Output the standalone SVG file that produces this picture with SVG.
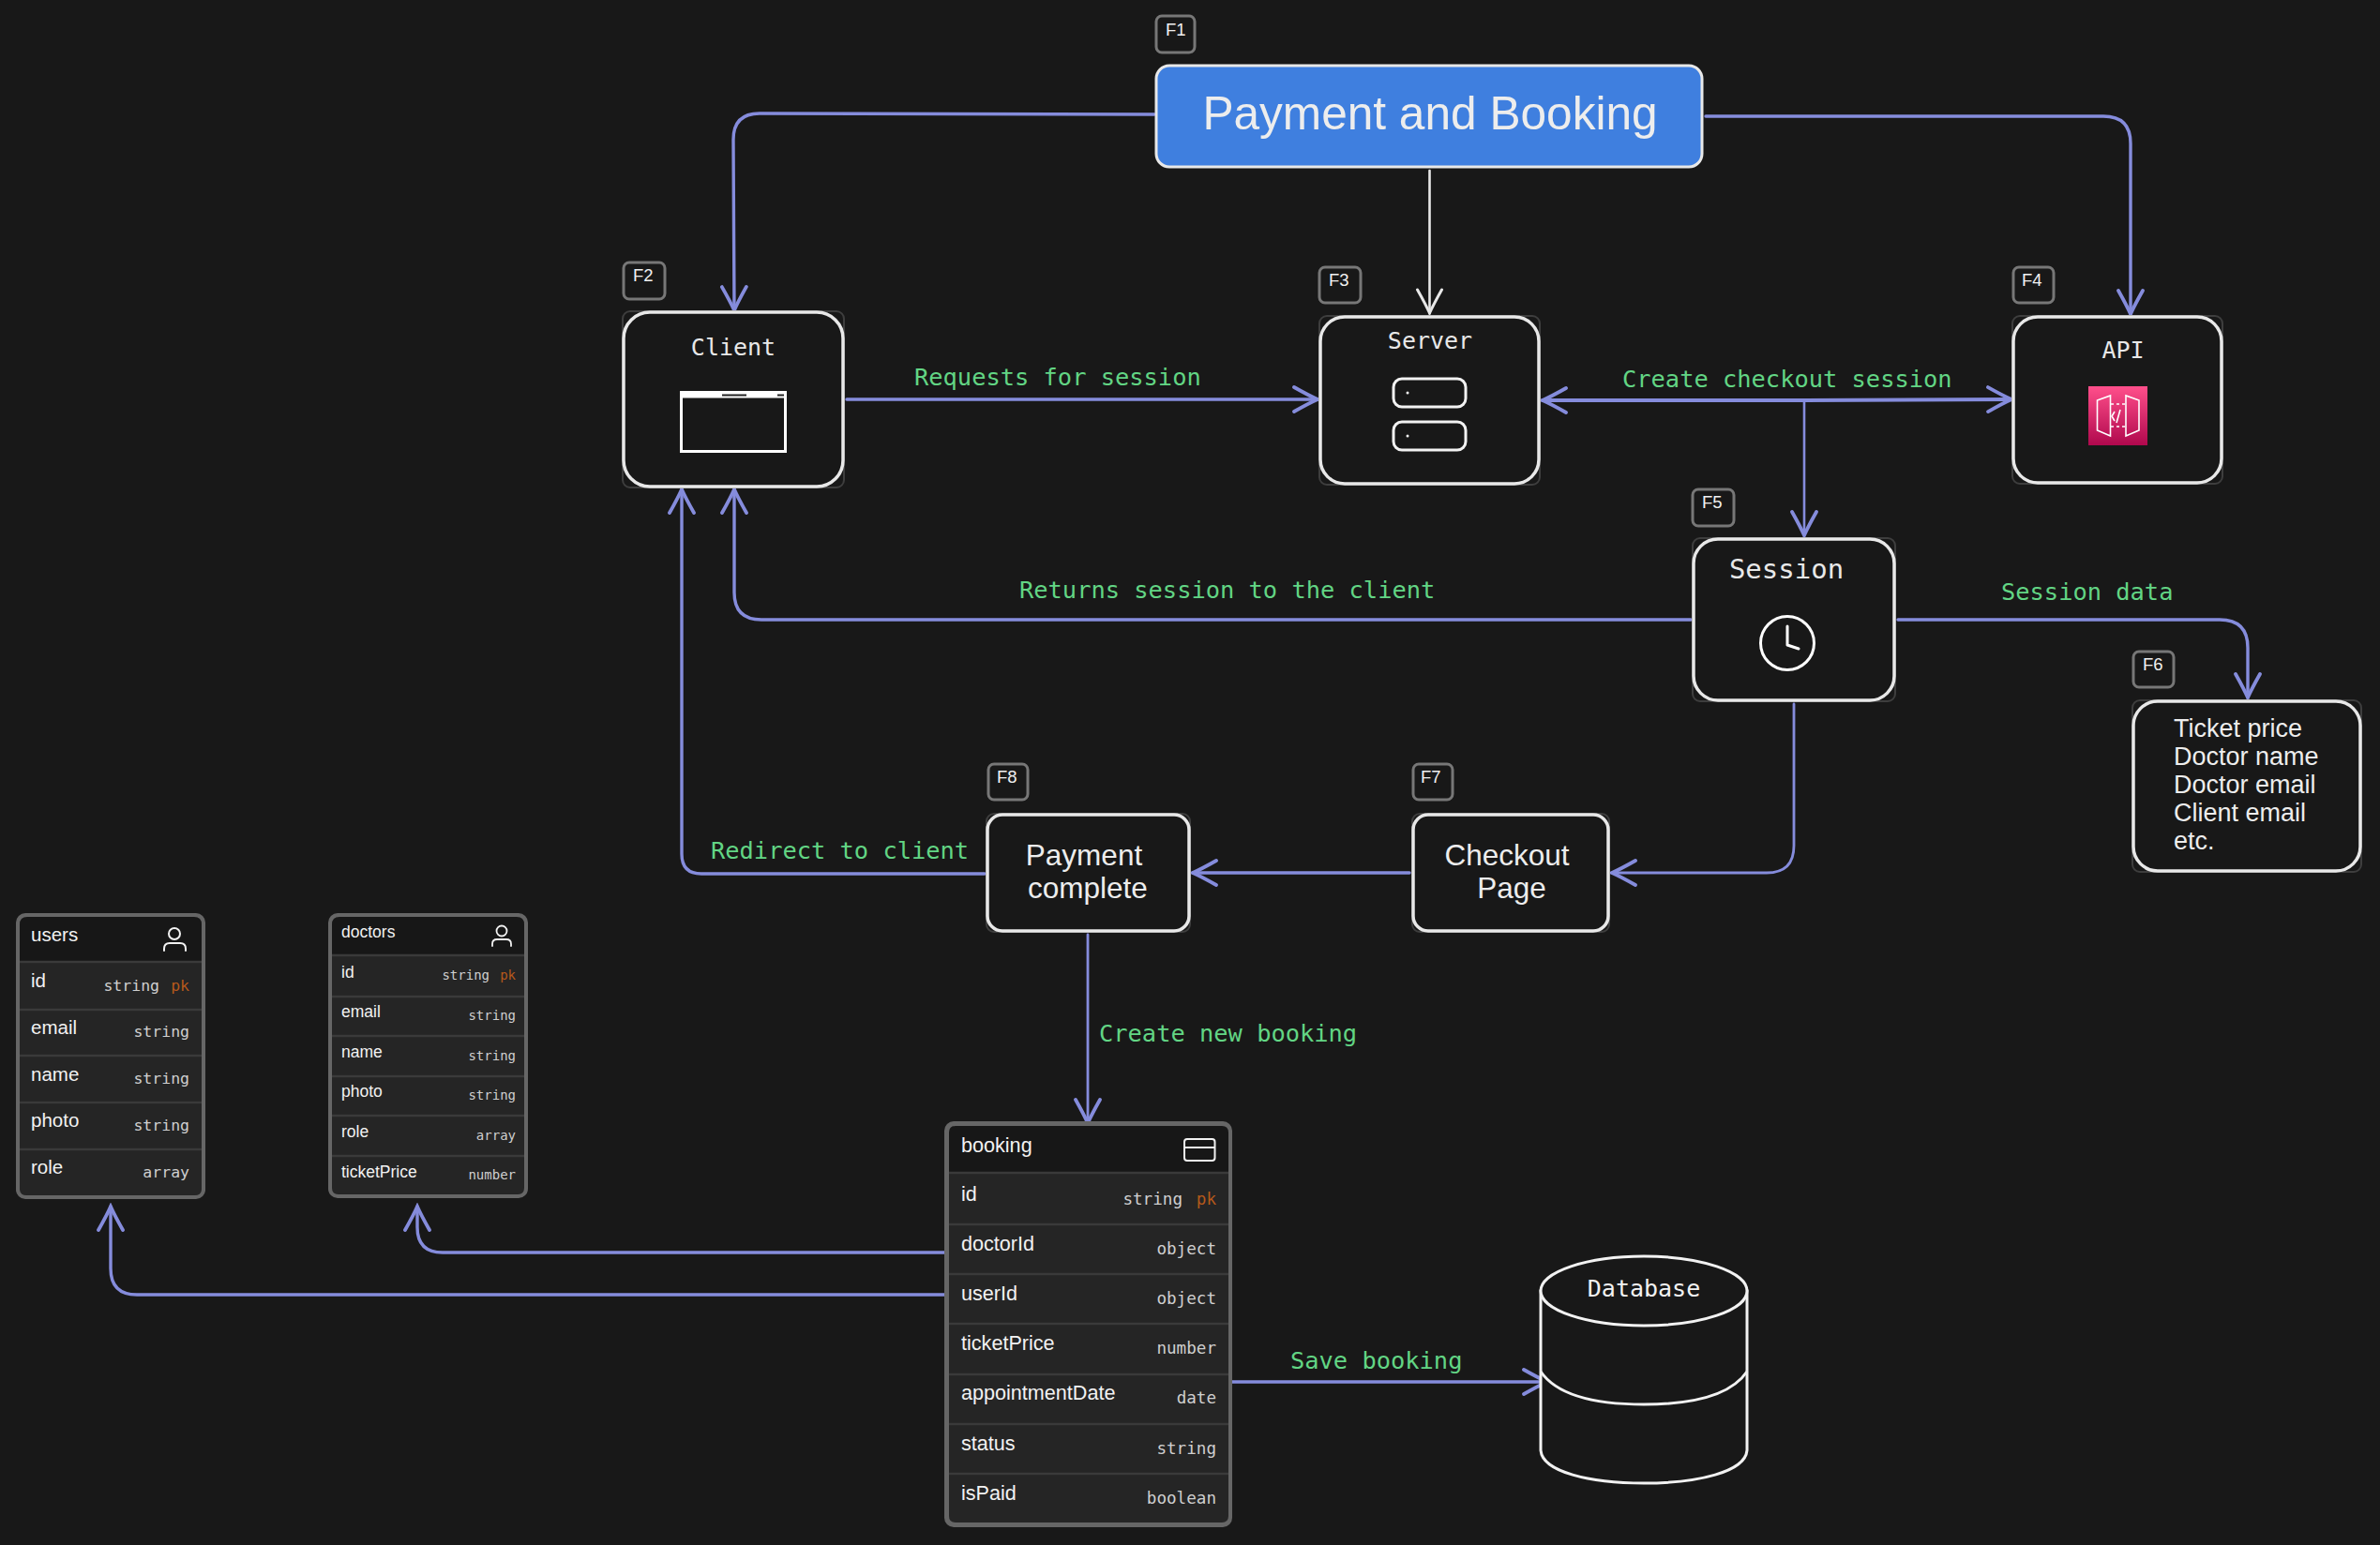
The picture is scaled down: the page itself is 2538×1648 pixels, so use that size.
<svg xmlns="http://www.w3.org/2000/svg" width="2538" height="1648" viewBox="0 0 2538 1648">
<style>
.sel{fill:#181818;stroke:#3e3e3e;stroke-width:2}
.box{fill:#181818;stroke:#e8e8e8;stroke-width:3.5}
.badge{fill:#181818;stroke:#777;stroke-width:3}
.bt{font:18.500px "Liberation Sans",Arial,sans-serif;fill:#f0f0f0}
.mono{font-family:"DejaVu Sans Mono","Liberation Mono",monospace;fill:#e8e8e8}
.title{font-size:25px;text-anchor:middle}
.lab{font-family:"DejaVu Sans Mono","Liberation Mono",monospace;font-size:25.4px;fill:#62d584}
.sans{font-family:"Liberation Sans",Arial,sans-serif;fill:#ededed}
.big{font-size:31.500px;text-anchor:middle}
.edge{fill:none;stroke:#858cdc;stroke-width:3.4;stroke-linecap:round;stroke-linejoin:round}
.tb{fill:#666}
.hd{fill:#171717}
.rw{fill:#252525}
.sep{stroke:#3a3a3a;stroke-width:2.5}
.ico{fill:none;stroke:#f2f2f2;stroke-width:2;stroke-linecap:round;stroke-linejoin:round}
.n{fill:#f2f2f2}
.t{font-family:"DejaVu Sans Mono","Liberation Mono",monospace;fill:#cfcfcf;text-anchor:end}
.pk{fill:#b5591b}
</style>
<defs>
<marker id="ah" markerUnits="userSpaceOnUse" viewBox="-30 -18 34 36" refX="0" refY="0" markerWidth="34" markerHeight="36" orient="auto-start-reverse"><path d="M-25 -13Q-9 -4 0 0Q-9 4 -25 13" fill="none" stroke="#858cdc" stroke-width="3.800" stroke-linecap="round"/></marker>
<marker id="aw" markerUnits="userSpaceOnUse" viewBox="-30 -18 34 36" refX="0" refY="0" markerWidth="34" markerHeight="36" orient="auto"><path d="M-25 -13Q-9 -4 0 0Q-9 4 -25 13" fill="none" stroke="#e8e8e8" stroke-width="3" stroke-linecap="round"/></marker>
<linearGradient id="gw" x1="0" y1="1" x2="0" y2="0"><stop offset="0" stop-color="#b0084d"/><stop offset="1" stop-color="#ff4f8b"/></linearGradient>
</defs>
<rect width="2538" height="1648" fill="#181818"/>
<g id="connectors">
<path class="edge" marker-end="url(#ah)" d="M1231 122L810 121Q782 121 782 149L783 331"/>
<path class="edge" d="M1524.500 182V334" style="stroke:#e8e8e8;stroke-width:2.600" marker-end="url(#aw)"/>
<path class="edge" marker-end="url(#ah)" d="M1819 124H2243Q2272 124 2272 153V335"/>
<path class="edge" marker-end="url(#ah)" d="M903 426H1405"/>
<path class="edge" style="stroke-width:4" marker-start="url(#ah)" marker-end="url(#ah)" d="M1645 427L1925 427L2145 426"/>
<path class="edge" style="stroke-width:2.600" marker-end="url(#ah)" d="M1924 427V571"/>
<path class="edge" marker-end="url(#ah)" d="M1803 661H812Q783 661 783 632V522"/>
<path class="edge" marker-end="url(#ah)" d="M2024 661H2367Q2397 661 2397 691V744"/>
<path class="edge" style="stroke-width:2.800" marker-end="url(#ah)" d="M1913 751V902Q1913 931 1884 931H1719"/>
<path class="edge" marker-end="url(#ah)" d="M1503 931H1272"/>
<path class="edge" marker-end="url(#ah)" d="M1050 932H748Q727 932 727 911V522"/>
<path class="edge" style="stroke-width:2.800" marker-end="url(#ah)" d="M1160 997V1198"/>
<path class="edge" marker-end="url(#ah)" d="M1008 1336H472Q445 1336 445 1309V1287"/>
<path class="edge" marker-end="url(#ah)" d="M1008 1381H146Q118 1381 118 1353V1287"/>
<path class="edge" marker-end="url(#ah)" d="M1314 1474H1650"/>
</g>
<g id="edge-labels">
<text class="lab" x="975" y="411">Requests for session</text>
<text class="lab" x="1730" y="413">Create checkout session</text>
<text class="lab" x="1087" y="638">Returns session to the client</text>
<text class="lab" x="2134" y="640">Session data</text>
<text class="lab" x="758" y="916">Redirect to client</text>
<text class="lab" x="1172" y="1111">Create new booking</text>
<text class="lab" x="1376" y="1460">Save booking</text>
</g>
<g id="node-payment-booking">
<rect x="1233" y="17" width="41" height="39" rx="6" class="badge"/><text class="bt" x="1243" y="38">F1</text>
<rect x="1233" y="70" width="582" height="108" rx="14" fill="#3f7fdf" stroke="#e8e8e8" stroke-width="3"/>
<text class="sans" x="1525" y="138" font-size="49.600" text-anchor="middle">Payment and Booking</text>
</g>
<g id="node-client">
<rect x="665" y="280" width="44" height="39" rx="6" class="badge"/><text class="bt" x="675" y="300">F2</text>
<rect x="664" y="332" width="236" height="188" rx="8" class="sel"/><rect x="665" y="333" width="234" height="186" rx="28" class="box"/>
<text class="mono title" x="782" y="379">Client</text>
<rect x="726.500" y="418.500" width="111" height="63" fill="none" stroke="#fff" stroke-width="3"/>
<rect x="726.500" y="418.500" width="111" height="6" fill="#fff"/>
<path d="M770 421.500H796M829 421.500H836" stroke="#222" stroke-width="2"/>
</g>
<g id="node-server">
<rect x="1407" y="285" width="44" height="38" rx="6" class="badge"/><text class="bt" x="1417" y="305">F3</text>
<rect x="1407" y="337" width="235" height="180" rx="8" class="sel"/><rect x="1408" y="338" width="233" height="178" rx="26" class="box"/>
<text class="mono title" x="1525" y="372">Server</text>
<rect x="1486" y="404" width="77" height="30" rx="9" fill="none" stroke="#f2f2f2" stroke-width="3"/>
<rect x="1486" y="450" width="77" height="30" rx="9" fill="none" stroke="#f2f2f2" stroke-width="3"/>
<circle cx="1501" cy="419" r="1.500" fill="#f2f2f2"/><circle cx="1501" cy="465" r="1.500" fill="#f2f2f2"/>
</g>
<g id="node-api">
<rect x="2147" y="285" width="43" height="38" rx="6" class="badge"/><text class="bt" x="2156" y="305">F4</text>
<rect x="2146" y="337" width="224" height="179" rx="8" class="sel"/><rect x="2147" y="338" width="222" height="177" rx="26" class="box"/>
<text class="mono title" x="2264" y="382">API</text>
<rect x="2227" y="412" width="63" height="63" fill="url(#gw)"/>
<g fill="none" stroke="#fff" stroke-width="1.600">
<path d="M2236.500 427L2250.500 422V465L2236.500 459ZM2281 427L2267 422V465L2281 459Z"/>
<path d="M2251 431H2266M2251 455H2266" stroke-dasharray="3 3"/>
<path d="M2255 439L2252 444L2255 449M2261 437L2257 451"/>
</g>
</g>
<g id="node-session">
<rect x="1805" y="522" width="44" height="39" rx="6" class="badge"/><text class="bt" x="1815" y="542">F5</text>
<rect x="1805" y="574" width="216" height="174" rx="8" class="sel"/><rect x="1806" y="575" width="214" height="172" rx="26" class="box"/>
<text class="mono" x="1905" y="617" font-size="29" text-anchor="middle">Session</text>
<circle cx="1906" cy="686" r="28.500" fill="none" stroke="#fff" stroke-width="3"/>
<path d="M1906 668V688L1918 692" fill="none" stroke="#fff" stroke-width="3" stroke-linecap="round" stroke-linejoin="round"/>
</g>
<g id="node-session-data">
<rect x="2275" y="695" width="43" height="38" rx="6" class="badge"/><text class="bt" x="2285" y="715">F6</text>
<rect x="2274" y="747" width="244" height="183" rx="8" class="sel"/><rect x="2275" y="748" width="242" height="181" rx="26" class="box"/>
<g class="sans" font-size="27"><text x="2318" y="786">Ticket price</text><text x="2318" y="816">Doctor name</text><text x="2318" y="846">Doctor email</text><text x="2318" y="876">Client email</text><text x="2318" y="906">etc.</text></g>
</g>
<g id="node-checkout">
<rect x="1507" y="815" width="42" height="38" rx="6" class="badge"/><text class="bt" x="1515" y="835">F7</text>
<rect x="1506" y="868" width="210" height="126" rx="8" class="sel"/><rect x="1507" y="869" width="208" height="124" rx="16" class="box"/>
<text class="sans big" x="1607" y="923">Checkout</text><text class="sans big" x="1612" y="958">Page</text>
</g>
<g id="node-payment-complete">
<rect x="1054" y="815" width="42" height="38" rx="6" class="badge"/><text class="bt" x="1063" y="835">F8</text>
<rect x="1052" y="868" width="217" height="126" rx="8" class="sel"/><rect x="1053" y="869" width="215" height="124" rx="16" class="box"/>
<text class="sans big" x="1156" y="923">Payment</text><text class="sans big" x="1160" y="958">complete</text>
</g>
<g id="node-users">
<rect x="17" y="974" width="202" height="305" rx="10" class="tb"/>
<path class="hd" d="M21 1026V986Q21 978 29 978H207Q215 978 215 986V1026Z"/>
<path class="rw" d="M21 1026H215V1268Q215 1275 208 1275H28Q21 1275 21 1268Z"/>
<path class="sep" d="M21 1026H215M21 1077H215M21 1126H215M21 1176H215M21 1226H215"/>
<path class="ico" d="M175 1014V1012Q175 1006 181 1006H192Q198 1006 198 1012V1014"/><circle class="ico" cx="186" cy="996" r="6"/>
<g class="sans" font-size="20.500"><text class="n" x="33" y="1004">users</text><text class="n" x="33" y="1053">id</text><text class="n" x="33" y="1103">email</text><text class="n" x="33" y="1153">name</text><text class="n" x="33" y="1202">photo</text><text class="n" x="33" y="1252">role</text></g>
<g class="t" font-size="16.500"><text x="170" y="1057">string</text><text class="pk" x="202" y="1057">pk</text><text x="202" y="1106">string</text><text x="202" y="1156">string</text><text x="202" y="1206">string</text><text x="202" y="1256">array</text></g>
</g>
<g id="node-doctors">
<rect x="350" y="974" width="213" height="304" rx="10" class="tb"/>
<path class="hd" d="M354 1019V986Q354 978 362 978H551Q559 978 559 986V1019Z"/>
<path class="rw" d="M354 1019H559V1267Q559 1274 552 1274H361Q354 1274 354 1267Z"/>
<path class="sep" d="M354 1019H559M354 1063H559M354 1105H559M354 1148H559M354 1190H559M354 1233H559"/>
<path class="ico" style="stroke-width:1.800" d="M525 1009V1007Q525 1002 530 1002H540Q545 1002 545 1007V1009"/><circle class="ico" style="stroke-width:1.800" cx="535" cy="993" r="5.500"/>
<g class="sans" font-size="17.500"><text class="n" x="364" y="1000">doctors</text><text class="n" x="364" y="1043">id</text><text class="n" x="364" y="1085">email</text><text class="n" x="364" y="1128">name</text><text class="n" x="364" y="1170">photo</text><text class="n" x="364" y="1213">role</text><text class="n" x="364" y="1256">ticketPrice</text></g>
<g class="t" font-size="14"><text x="522" y="1045">string</text><text class="pk" x="550" y="1045">pk</text><text x="550" y="1088">string</text><text x="550" y="1131">string</text><text x="550" y="1173">string</text><text x="550" y="1216">array</text><text x="550" y="1258">number</text></g>
</g>
<g id="node-booking">
<rect x="1007" y="1196" width="307" height="433" rx="10" class="tb"/>
<path class="hd" d="M1012 1251V1208Q1012 1201 1019 1201H1303Q1310 1201 1310 1208V1251Z"/>
<path class="rw" d="M1012 1251H1310V1617Q1310 1624 1303 1624H1019Q1012 1624 1012 1617Z"/>
<path class="sep" d="M1012 1251H1310M1012 1306H1310M1012 1359H1310M1012 1412H1310M1012 1466H1310M1012 1519H1310M1012 1572H1310"/>
<rect class="ico" x="1263" y="1215" width="32.500" height="23" rx="3"/><path class="ico" d="M1263 1224H1295"/>
<g class="sans" font-size="21.600"><text class="n" x="1025" y="1229">booking</text><text class="n" x="1025" y="1281">id</text><text class="n" x="1025" y="1334">doctorId</text><text class="n" x="1025" y="1387">userId</text><text class="n" x="1025" y="1440">ticketPrice</text><text class="n" x="1025" y="1493">appointmentDate</text><text class="n" x="1025" y="1547">status</text><text class="n" x="1025" y="1600">isPaid</text></g>
<g class="t" font-size="17.600"><text x="1261" y="1285">string</text><text class="pk" x="1297" y="1285">pk</text><text x="1297" y="1338">object</text><text x="1297" y="1391">object</text><text x="1297" y="1444">number</text><text x="1297" y="1497">date</text><text x="1297" y="1551">string</text><text x="1297" y="1604">boolean</text></g>
</g>
<g id="node-database">
<path d="M1643 1377V1547C1645 1570 1695 1582 1753 1582C1811 1582 1861 1570 1863 1547V1377Z" fill="#181818" stroke="#f2f2f2" stroke-width="3"/>
<ellipse cx="1753" cy="1377" rx="110" ry="37" fill="#181818" stroke="#f2f2f2" stroke-width="3"/>
<path d="M1643 1463C1660 1488 1700 1498 1753 1498C1806 1498 1846 1488 1863 1463" fill="none" stroke="#f2f2f2" stroke-width="3"/>
<text class="mono title" x="1753" y="1383" style="fill:#f2f2f2">Database</text>
</g>
</svg>
